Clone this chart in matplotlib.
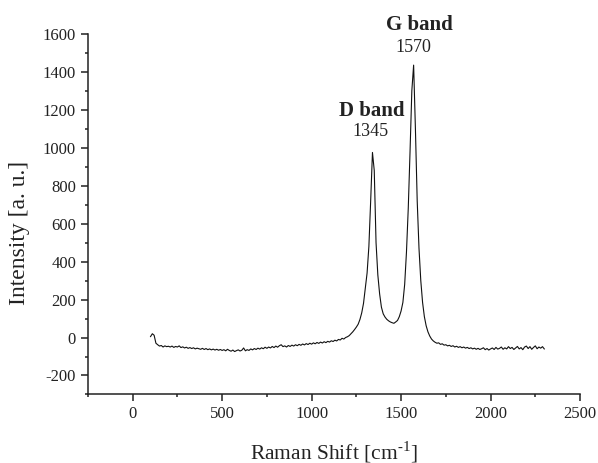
"""
Raman spectrum with D and G bands
"""

import numpy as np
from matplotlib import pyplot as plt
from matplotlib.ticker import MultipleLocator

plt.rcParams['font.family'] = ['Liberation Serif', 'DejaVu Serif']
plt.rcParams['mathtext.fontset'] = 'custom'
plt.rcParams['mathtext.rm'] = 'Liberation Serif'
plt.rcParams['axes.unicode_minus'] = False

# Raman shift grid [cm-1], 100..2300 every 10
shift = np.arange(100, 2301, 10)

intensity = [
    5, 20, 12, -30, -38, -45, -42, -50, -44, -48, -46,            # 100-200
    -50, -45, -52, -47, -50, -44, -53, -49, -55, -51,             # 210-300
    -57, -53, -58, -54, -60, -56, -59, -62, -57, -63,             # 310-400
    -58, -64, -60, -65, -61, -66, -62, -67, -63, -68,             # 410-500
    -64, -70, -62, -68, -72, -66, -74, -69, -65, -71,             # 510-600
    -67, -55, -70, -64, -68, -60, -65, -58, -63, -56,             # 610-700
    -61, -54, -59, -51, -57, -50, -55, -47, -53, -45,             # 710-800
    -51, -43, -38, -48, -44, -50, -42, -47, -40, -45,             # 810-900
    -38, -43, -36, -41, -34, -39, -32, -37, -30, -35,             # 910-1000
    -28, -33, -26, -31, -24, -29, -22, -27, -20, -24,             # 1010-1100
    -17, -21, -14, -18, -10, -13, -4, -8, 0, 4,                   # 1110-1200
    10, 20, 30, 42, 55, 70, 95, 130, 180, 260,                    # 1210-1300
    340, 480, 720, 975, 880, 500, 330, 230, 160, 125,             # 1310-1400
    108, 96, 88, 82, 78, 75, 82, 90, 110, 140,                    # 1410-1500
    185, 280, 450, 680, 980, 1300, 1435, 1100, 720, 470,          # 1510-1600
    300, 185, 110, 62, 30, 8, -8, -18, -25, -30,                  # 1610-1700
    -28, -36, -33, -40, -38, -44, -41, -47, -43, -50,             # 1710-1800
    -46, -52, -48, -54, -50, -56, -52, -58, -54, -60,             # 1810-1900
    -56, -62, -57, -63, -59, -54, -64, -58, -66, -60,             # 1910-2000
    -55, -63, -52, -61, -57, -50, -62, -54, -60, -48,             # 2010-2100
    -58, -52, -63, -55, -47, -60, -53, -64, -50, -45,             # 2110-2200
    -58, -48, -62, -52, -44, -59, -50, -56, -48, -60,             # 2210-2300
]

band_names = ['D band', 'G band']
band_pos = [1345, 1570]


def raman_plot():
    fig = plt.figure(figsize=(5.98, 4.63), dpi=100)
    ax = fig.add_axes([0.147, 0.148, 0.823, 0.779])
    ax.plot(shift, intensity, color='#111111', linewidth=0.8)

    ax.set_xlim(-250, 2500)
    ax.set_ylim(-300, 1600)
    ax.xaxis.set_major_locator(MultipleLocator(500))
    ax.xaxis.set_minor_locator(MultipleLocator(250))
    ax.yaxis.set_major_locator(MultipleLocator(200))
    ax.yaxis.set_minor_locator(MultipleLocator(100))

    for side in ['top', 'right']:
        ax.spines[side].set_visible(False)
    for side in ['left', 'bottom']:
        ax.spines[side].set_linewidth(1.1)
        ax.spines[side].set_color('#222222')
    ax.tick_params(which='major', direction='out', length=5, width=1.1,
                   labelsize=12, colors='#222222')
    ax.tick_params(which='minor', direction='out', length=2.5, width=1.1,
                   colors='#222222')

    ax.set_xlabel('Raman Shift [cm$^{\\text{-1}}$]', fontsize=15.5,
                  labelpad=12, color='#222222')
    ax.set_ylabel('Intensity [a. u.]', fontsize=17, color='#222222')
    ax.yaxis.set_label_coords(-0.118, 0.448)

    # band labels above the peaks
    ax.text(1337, 1194, band_names[0], fontsize=15, fontweight='bold',
            ha='center', va='center', color='#222222')
    ax.text(1331, 1084, str(band_pos[0]), fontsize=13,
            ha='center', va='center', color='#222222')
    ax.text(1600, 1647, band_names[1], fontsize=15, fontweight='bold',
            ha='center', va='center', color='#222222')
    ax.text(1569, 1526, str(band_pos[1]), fontsize=13,
            ha='center', va='center', color='#222222')

    fig.savefig('out.png', dpi=100)


if __name__ == '__main__':
    raman_plot()
